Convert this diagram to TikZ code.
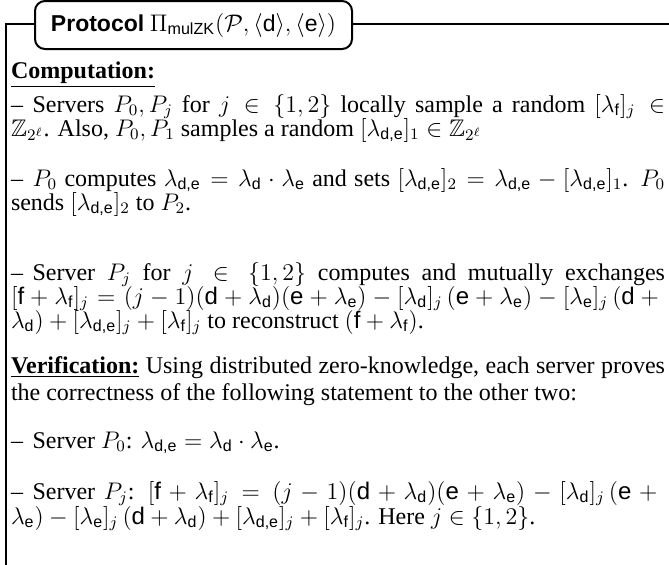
\documentclass[tikz,border=0pt]{standalone}
\usepackage{amsmath,amssymb}
\usepackage{fontspec}
\setmainfont{Liberation Serif}
\setsansfont{Liberation Sans}
\newcommand{\vs}[1]{\text{\normalfont\sffamily #1}}
\newcommand{\lam}[1]{\lambda_{\vs{#1}}}
\newlength{\linew}
\setlength{\linew}{327pt}
\newcommand{\jline}[1]{\hbox to \linew{#1}}
\newcommand{\itemdash}{--\hspace{0.4em}}
\begin{document}
\begin{tikzpicture}[x=0.5pt,y=-0.5pt, line width=1pt,
  txt/.style={anchor=base west, inner sep=0pt, font=\fontsize{12}{14}\selectfont},
  titlebox/.style={draw, rounded corners=5pt, minimum width=158.5pt, minimum height=24pt, inner sep=0pt, font=\fontsize{11.5}{13}\selectfont}]
\useasboundingbox (0,0) rectangle (669,564);
\node[titlebox] (title) at (193.5,25) {\textsf{\bfseries Protocol} $\Pi_{\vs{mulZK}}(\mathcal{P},\langle\vs{d}\rangle,\langle\vs{e}\rangle)$};
\coordinate (tl) at (6,24);
\coordinate (bl) at (6,566);
\coordinate (tr) at (671,24);
\draw[line join=miter] (title.west |- tl) -- (tl) -- (bl);
\draw (title.east |- tr) -- (tr);
\node[txt] (comp) at (10,78) {\underline{\textbf{Computation:}}};
\node[txt] (a1) at (10,112) {\jline{\itemdash Servers $P_0, P_j$ for $j \in \{1,2\}$ locally sample a random $[\lam{f}]_j \in$}};
\node[txt] (a2) at (10,136) {$\mathbb{Z}_{2^\ell}$. Also, $P_0, P_1$ samples a random $[\lam{d,e}]_1 \in \mathbb{Z}_{2^\ell}$};
\node[txt] (b1) at (10,186) {\jline{\itemdash $P_0$ computes $\lam{d,e} = \lam{d}\cdot\lam{e}$ and sets $[\lam{d,e}]_2 = \lam{d,e} - [\lam{d,e}]_1$. $P_0$}};
\node[txt] (b2) at (10,210) {sends $[\lam{d,e}]_2$ to $P_2$.};
\node[txt] (c1) at (10,280) {\jline{\itemdash Server $P_j$ for $j \in \{1,2\}$ computes and mutually exchanges}};
\node[txt] (c2) at (10,304) {\jline{$[\vs{f}+\lam{f}]_j = (j-1)(\vs{d}+\lam{d})(\vs{e}+\lam{e}) - [\lam{d}]_j\,(\vs{e}+\lam{e}) - [\lam{e}]_j\,(\vs{d}+{}$}};
\node[txt] (c3) at (10,328) {$\lam{d}) + [\lam{d,e}]_j + [\lam{f}]_j$ to reconstruct $(\vs{f}+\lam{f})$.};
\node[txt] (v1) at (10,373) {\jline{\underline{\textbf{Verification:}} Using distributed zero-knowledge, each server proves}};
\node[txt] (v2) at (10,400) {the correctness of the following statement to the other two:};
\node[txt] (v3) at (10,448) {\itemdash Server $P_0$: $\lam{d,e} = \lam{d}\cdot\lam{e}$.};
\node[txt] (v4) at (10,499) {\jline{\itemdash Server $P_j$: $[\vs{f}+\lam{f}]_j = (j-1)(\vs{d}+\lam{d})(\vs{e}+\lam{e}) - [\lam{d}]_j\,(\vs{e}+{}$}};
\node[txt] (v5) at (10,524) {$\lam{e}) - [\lam{e}]_j\,(\vs{d}+\lam{d}) + [\lam{d,e}]_j + [\lam{f}]_j$. Here $j\in\{1,2\}$.};
\end{tikzpicture}
\end{document}
